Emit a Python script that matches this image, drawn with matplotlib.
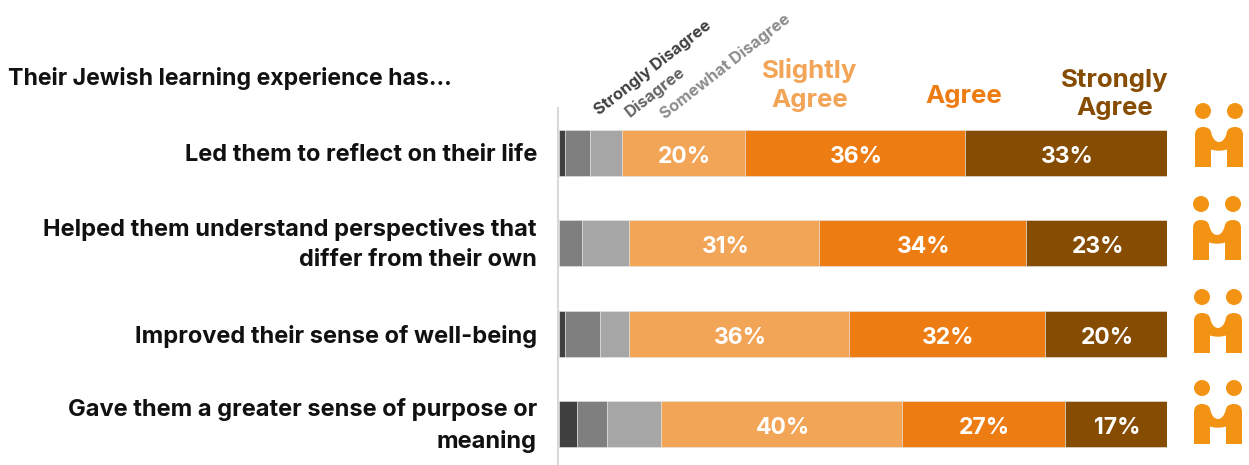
import matplotlib
matplotlib.use("Agg")
import matplotlib.pyplot as plt
from matplotlib.patches import Circle, PathPatch
from matplotlib.path import Path

W, H = 1249, 465

questions = [
    "Led them to reflect on their life",
    "Helped them understand perspectives that\ndiffer from their own",
    "Improved their sense of well-being",
    "Gave them a greater sense of purpose or\nmeaning",
]
strongly_disagree = [1.1, 0, 1, 3]
disagree = [4.1, 3.9, 5.8, 5]
somewhat_disagree = [5.2, 7.7, 4.8, 9]
slightly_agree = [20, 31, 36, 40]
agree = [36, 34, 32, 27]
strongly_agree = [33, 23, 20, 17]

series = [strongly_disagree, disagree, somewhat_disagree,
          slightly_agree, agree, strongly_agree]
colors = ["#404040", "#7F7F7F", "#A6A6A6", "#F2A457", "#ED7D12", "#854C02"]
labelled = [False, False, False, True, True, True]

plt.rcParams["font.family"] = "Inter"

fig = plt.figure(figsize=(W / 100, H / 100), dpi=100)
# Overlay in pixel units (origin top left) for text, axis rule and logos
page = fig.add_axes([0, 0, 1, 1])
page.set_xlim(0, W)
page.set_ylim(H, 0)
page.axis("off")

# Bar axes: horizontal share scale, one row per question
L, R = 558.5, 1167
T, B = 107.8, 469.1
ax = fig.add_axes([L / W, 1 - B / H, (R - L) / W, (B - T) / H])
ax.set_xlim(0, 100)
ax.set_ylim(3.5, -0.5)
ax.axis("off")
ax.patch.set_alpha(0)

rows = range(len(questions))
totals = [sum(s[i] for s in series) for i in rows]
for i in rows:
    left = 0
    for s, c, lab in zip(series, colors, labelled):
        w = s[i] / totals[i] * 100
        if w > 0:
            ax.barh(i, w, left=left, height=0.51, color=c,
                    edgecolor="#E6E6E6", linewidth=0.4)
        if lab:
            ax.annotate(f"{s[i]}%", (left + w / 2, i), xytext=(1, -2.8),
                        textcoords="offset points", color="white", fontsize=16.5,
                        fontweight="bold", ha="center", va="center")
        left += w

page.plot([558, 558], [107, 465], color="#D9D9D9", lw=1.5, solid_capstyle="butt")

# Question labels
page.text(8, 78, "Their Jewish learning experience has...", fontsize=16.6,
          fontweight="bold", color="#111111", va="center", ha="left")
label_y = [155, 244.5, 336, 425.5]
for q, y in zip(questions, label_y):
    page.text(537, y, q, fontsize=17, fontweight="bold", color="#111111",
              ha="right", va="center", linespacing=1.45, multialignment="right")

# Column headers
page.text(810, 85, "Slightly\nAgree", color=colors[3], fontsize=18.6, fontweight="bold",
          ha="center", va="center", linespacing=1.3)
page.text(964, 96, "Agree", color=colors[4], fontsize=18.6, fontweight="bold",
          ha="center", va="center")
page.text(1115, 94.5, "Strongly\nAgree", color=colors[5], fontsize=18.6, fontweight="bold",
          ha="center", va="center", linespacing=1.3)
header_rot = dict(fontsize=11.8, fontweight="bold", rotation=38,
                  rotation_mode="anchor", ha="left", va="center")
page.text(596, 112, "Strongly Disagree", color="#404040", **header_rot)
page.text(627, 114, "Disagree", color="#666666", **header_rot)
page.text(662, 116, "Somewhat Disagree", color="#8C8C8C", **header_rot)


def draw_logo(x, y):
    """Two dots above a rounded M; x, y is the top-left corner of the M."""
    c = "#F39314"
    page.add_patch(Circle((x + 8, y - 16), 8, color=c, lw=0))
    page.add_patch(Circle((x + 40, y - 16), 8, color=c, lw=0))
    verts = [
        (x, y + 40), (x, y + 8),
        (x, y), (x + 8, y),
        (x + 16, y), (x + 16.5, y + 7),
        (x + 19, y + 15), (x + 24, y + 15),
        (x + 29, y + 15), (x + 31.5, y + 7),
        (x + 32, y), (x + 40, y),
        (x + 48, y), (x + 48, y + 8),
        (x + 48, y + 40), (x + 32, y + 40), (x + 32, y + 22.5),
        (x + 24, y + 25), (x + 16, y + 22.5),
        (x + 16, y + 40), (x, y + 40),
    ]
    codes = [Path.MOVETO, Path.LINETO,
             Path.CURVE3, Path.CURVE3,
             Path.CURVE3, Path.CURVE3,
             Path.CURVE3, Path.CURVE3,
             Path.CURVE3, Path.CURVE3,
             Path.CURVE3, Path.CURVE3,
             Path.CURVE3, Path.CURVE3,
             Path.LINETO, Path.LINETO, Path.LINETO,
             Path.CURVE3, Path.CURVE3,
             Path.LINETO, Path.CLOSEPOLY]
    page.add_patch(PathPatch(Path(verts, codes), facecolor=c, lw=0))


for x, y in [(1195, 127), (1193, 220), (1194, 313), (1194, 404)]:
    draw_logo(x, y)

fig.savefig("out.png", dpi=100)
